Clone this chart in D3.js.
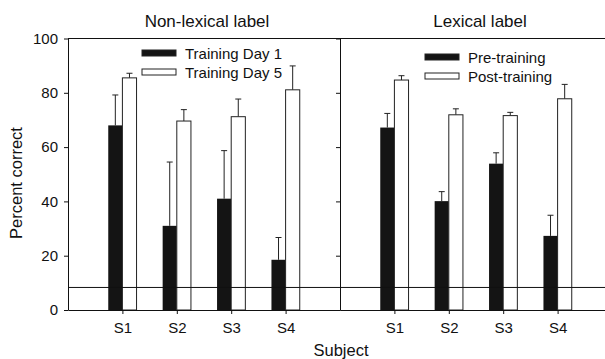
<!DOCTYPE html>
<html>
<head>
<meta charset="utf-8">
<script src="https://cdn.jsdelivr.net/npm/d3@7"></script>
<style>
  body { margin: 0; background: #fff; }
  svg { font-family: "Liberation Sans", Arial, sans-serif; }
</style>
</head>
<body>
<div id="vis-holder"></div>
<script>
// Data
const subjects = ["S1", "S2", "S3", "S4"];
const panelTitles = ["Non-lexical label", "Lexical label"];
const legendLabels = [["Training Day 1", "Training Day 5"], ["Pre-training", "Post-training"]];

const nonLexDay1 = [68, 31, 41, 18.5];
const nonLexDay1Err = [11.2, 23.5, 17.7, 8.2];
const nonLexDay5 = [85.5, 69.6, 71.2, 81.1];
const nonLexDay5Err = [1.7, 4.2, 6.5, 8.8];

const lexPre = [67.2, 40.1, 53.9, 27.3];
const lexPreErr = [5.2, 3.5, 4.0, 7.6];
const lexPost = [84.7, 71.9, 71.6, 77.8];
const lexPostErr = [1.6, 2.2, 1.2, 5.3];

const chanceLevel = 8.3;
const yTicks = [0, 20, 40, 60, 80, 100];

// Layout
const width = 605, height = 359;
const margin = { top: 38.5, bottom: 49, left: 68 };
const panelW = 272;

const svg = d3.select("#vis-holder")
  .append("svg")
  .attr("width", width)
  .attr("height", height);

const y = d3.scaleLinear()
  .domain([0, 100])
  .range([height - margin.bottom, margin.top]);

const panels = [
  { title: panelTitles[0], legend: legendLabels[0], dark: nonLexDay1, darkErr: nonLexDay1Err, light: nonLexDay5, lightErr: nonLexDay5Err, x0: margin.left, titleX: 207, legendX: 142, legendY: 50 },
  { title: panelTitles[1], legend: legendLabels[1], dark: lexPre, darkErr: lexPreErr, light: lexPost, lightErr: lexPostErr, x0: margin.left + panelW, titleX: 480, legendX: 425, legendY: 54 }
];

const barUnits = 0.26;

panels.forEach((p, pi) => {
  const x = d3.scaleLinear().domain([0, 5]).range([p.x0, p.x0 + panelW]);
  const bw = x(barUnits) - x(0);

  const rows = subjects.map((s, i) => ({ s, i: i + 1, dark: p.dark[i], darkErr: p.darkErr[i], light: p.light[i], lightErr: p.lightErr[i] }));

  // error bars (upward only), drawn under bars
  const errG = svg.append("g").attr("stroke", "#222").attr("stroke-width", 1);
  [["dark", "darkErr", -1], ["light", "lightErr", 0]].forEach(([k, ek, off]) => {
    rows.forEach(d => {
      const cx = x(d.i) + off * bw + bw / 2;
      errG.append("line")
        .attr("x1", cx).attr("x2", cx)
        .attr("y1", y(d[k])).attr("y2", y(d[k] + d[ek]));
      errG.append("line")
        .attr("x1", cx - 3).attr("x2", cx + 3)
        .attr("y1", y(d[k] + d[ek])).attr("y2", y(d[k] + d[ek]));
    });
  });

  // dark bars
  svg.append("g").selectAll("rect")
    .data(rows)
    .enter().append("rect")
      .attr("x", d => x(d.i) - bw)
      .attr("y", d => y(d.dark))
      .attr("width", bw)
      .attr("height", d => y(0) - y(d.dark))
      .attr("fill", "#141414");

  // light bars
  svg.append("g").selectAll("rect")
    .data(rows)
    .enter().append("rect")
      .attr("x", d => x(d.i))
      .attr("y", d => y(d.light))
      .attr("width", bw)
      .attr("height", d => y(0) - y(d.light))
      .attr("fill", "#fff")
      .attr("stroke", "#222")
      .attr("stroke-width", 1);

  // x axis
  svg.append("g")
    .attr("transform", `translate(0,${y(0)})`)
    .call(d3.axisBottom(x).tickValues([1, 2, 3, 4]).tickFormat(i => subjects[i - 1]).tickSize(4).tickSizeOuter(0).tickPadding(8))
    .attr("font-size", "15px")
    .call(g => g.selectAll("text").attr("fill", "#111"))
    .call(g => g.selectAll("line, path").attr("stroke", "#111"));

  // y axis (labels on first panel only)
  svg.append("g")
    .attr("transform", `translate(${p.x0},0)`)
    .call(d3.axisLeft(y).tickValues(yTicks).tickSize(4).tickSizeOuter(0).tickPadding(6).tickFormat(pi === 0 ? d3.format("d") : () => ""))
    .attr("font-size", "15px")
    .call(g => g.selectAll("text").attr("fill", "#111"))
    .call(g => g.selectAll("line, path").attr("stroke", "#111"));

  // title
  svg.append("text")
    .attr("x", p.titleX).attr("y", 27)
    .attr("text-anchor", "middle")
    .attr("font-size", "17px")
    .attr("fill", "#111")
    .text(p.title);

  // legend
  p.legend.forEach((lab, li) => {
    const ly = p.legendY + li * 19;
    svg.append("rect")
      .attr("x", p.legendX).attr("y", ly)
      .attr("width", 34).attr("height", 6)
      .attr("fill", li === 0 ? "#141414" : "#fff")
      .attr("stroke", "#222").attr("stroke-width", 1);
    svg.append("text")
      .attr("x", p.legendX + 43).attr("y", ly + 9)
      .attr("font-size", "15px")
      .attr("fill", "#111")
      .text(lab);
  });
});

// top frame line and chance line
const xFull = d3.scaleLinear().domain([0, 1]).range([margin.left, margin.left + 2 * panelW]);
svg.append("line")
  .attr("x1", xFull(0)).attr("x2", xFull(1))
  .attr("y1", y(100)).attr("y2", y(100))
  .attr("stroke", "#111");
svg.append("line")
  .attr("x1", xFull(0)).attr("x2", xFull(1))
  .attr("y1", y(chanceLevel)).attr("y2", y(chanceLevel))
  .attr("stroke", "#111");

// axis titles
svg.append("text")
  .attr("transform", `translate(22,183) rotate(-90)`)
  .attr("text-anchor", "middle")
  .attr("font-size", "16.5px")
  .attr("fill", "#111")
  .text("Percent correct");

svg.append("text")
  .attr("x", 341).attr("y", 356)
  .attr("text-anchor", "middle")
  .attr("font-size", "16.5px")
  .attr("fill", "#111")
  .text("Subject");
</script>
</body>
</html>
